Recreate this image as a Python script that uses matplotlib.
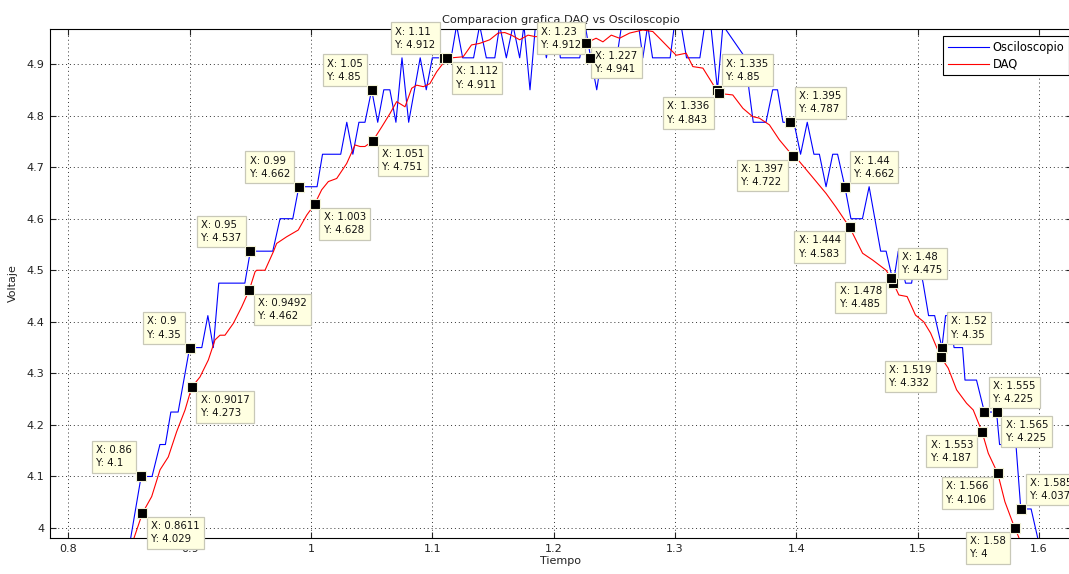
import numpy as np
import matplotlib.pyplot as plt

# Osciloscopio (blue) - quantized samples
t_osc = [0.845, 0.851, 0.86, 0.869, 0.8755, 0.880, 0.8845, 0.8905, 0.900, 0.910,
         0.915, 0.9195, 0.924, 0.9455, 0.950, 0.9685, 0.9745, 0.985, 0.990, 1.005,
         1.0095, 1.0245, 1.0295, 1.0345, 1.0395, 1.0445, 1.050, 1.055, 1.060, 1.065,
         1.070, 1.075, 1.0805, 1.090, 1.095, 1.100, 1.110, 1.1155, 1.120, 1.125,
         1.134, 1.139, 1.1445, 1.1515, 1.1555, 1.161, 1.1665, 1.172, 1.1755, 1.1805,
         1.185, 1.1895, 1.194, 1.1985, 1.203, 1.2055, 1.2215, 1.226, 1.2305, 1.2355,
         1.2395, 1.252, 1.256, 1.270, 1.2735, 1.2775, 1.2815, 1.296, 1.2995, 1.305,
         1.3095, 1.3205, 1.3245, 1.3295, 1.335, 1.3395, 1.358, 1.361, 1.3645, 1.375,
         1.3805, 1.3845, 1.389, 1.395, 1.398, 1.4035, 1.409, 1.4145, 1.419, 1.4245,
         1.430, 1.434, 1.440, 1.445, 1.4545, 1.460, 1.4695, 1.474, 1.480, 1.484,
         1.490, 1.495, 1.499, 1.5045, 1.509, 1.514, 1.520, 1.523, 1.526, 1.530,
         1.537, 1.539, 1.5485, 1.555, 1.565, 1.5675, 1.581, 1.585, 1.5935, 1.5995,
         1.605]
v_osc = [3.912, 3.975, 4.1, 4.1, 4.162, 4.162, 4.225, 4.225, 4.35, 4.35,
         4.412, 4.35, 4.475, 4.475, 4.537, 4.537, 4.6, 4.6, 4.662, 4.662,
         4.725, 4.725, 4.787, 4.725, 4.787, 4.787, 4.85, 4.787, 4.85, 4.85,
         4.787, 4.912, 4.787, 4.912, 4.85, 4.912, 4.912, 4.912, 4.975, 4.912,
         4.912, 4.975, 4.912, 4.912, 4.975, 4.912, 4.975, 4.912, 4.975, 4.85,
         4.975, 4.975, 4.912, 4.975, 4.975, 4.912, 4.912, 4.975, 4.912, 4.85,
         4.912, 4.912, 4.975, 4.975, 4.912, 4.975, 4.912, 4.912, 4.975, 4.975,
         4.912, 4.912, 4.975, 4.975, 4.85, 4.975, 4.912, 4.85, 4.787, 4.787,
         4.85, 4.85, 4.787, 4.787, 4.787, 4.725, 4.787, 4.725, 4.725, 4.662,
         4.725, 4.725, 4.662, 4.6, 4.6, 4.662, 4.537, 4.537, 4.475, 4.537,
         4.475, 4.475, 4.537, 4.475, 4.412, 4.412, 4.35, 4.412, 4.412, 4.35,
         4.35, 4.287, 4.287, 4.225, 4.225, 4.162, 4.162, 4.037, 4.037, 3.975,
         3.912]

# DAQ (red)
t_daq = [0.847, 0.8536, 0.8611, 0.8687, 0.8756, 0.8824, 0.8893, 0.8962, 0.9017, 0.9085,
         0.9154, 0.9209, 0.925, 0.9291, 0.936, 0.9429, 0.9492, 0.9539, 0.9552, 0.9621,
         0.969, 0.9717, 0.98, 0.9895, 0.9965, 1.003, 1.0088, 1.0143, 1.0212, 1.0294,
         1.0363, 1.0404, 1.0445, 1.051, 1.0583, 1.0651, 1.0706, 1.0775, 1.083, 1.0871,
         1.0926, 1.098, 1.1036, 1.112, 1.1158, 1.1254, 1.1323, 1.139, 1.1473, 1.1542,
         1.1597, 1.1652, 1.172, 1.1789, 1.185, 1.195, 1.205, 1.215, 1.222, 1.227,
         1.235, 1.2406, 1.2475, 1.2543, 1.2626, 1.2735, 1.2817, 1.2872, 1.2955, 1.301,
         1.3092, 1.3147, 1.323, 1.336, 1.3476, 1.356, 1.364, 1.3695, 1.3778, 1.386,
         1.397, 1.4025, 1.4132, 1.4245, 1.4325, 1.444, 1.4546, 1.4628, 1.474, 1.478,
         1.4845, 1.4913, 1.4982, 1.505, 1.5107, 1.519, 1.5252, 1.5321, 1.5403, 1.5458,
         1.553, 1.5582, 1.566, 1.5719, 1.58, 1.583, 1.59]
v_daq = [3.94, 3.977, 4.029, 4.061, 4.113, 4.138, 4.187, 4.229, 4.273, 4.293,
         4.326, 4.365, 4.374, 4.374, 4.397, 4.429, 4.462, 4.497, 4.5, 4.5,
         4.536, 4.552, 4.565, 4.578, 4.607, 4.628, 4.656, 4.672, 4.678, 4.707,
         4.743, 4.74, 4.74, 4.751, 4.778, 4.804, 4.827, 4.817, 4.853, 4.859,
         4.856, 4.862, 4.885, 4.911, 4.912, 4.914, 4.937, 4.94, 4.947, 4.96,
         4.961, 4.956, 4.947, 4.956, 4.953, 4.955, 4.95, 4.945, 4.95, 4.941,
         4.95, 4.943, 4.956, 4.95, 4.96, 4.966, 4.963, 4.95, 4.93, 4.917,
         4.921, 4.895, 4.892, 4.843, 4.84, 4.814, 4.798, 4.795, 4.782, 4.753,
         4.722, 4.711, 4.681, 4.649, 4.623, 4.583, 4.533, 4.52, 4.5, 4.485,
         4.452, 4.449, 4.413, 4.4, 4.378, 4.332, 4.31, 4.268, 4.242, 4.229,
         4.187, 4.145, 4.106, 4.051, 4.0, 3.984, 3.94]

# data tips: x, y, where the box sits (ul / lr / ur / ll)
tip_x = [0.86, 0.8611, 0.9, 0.9017, 0.95, 0.9492, 0.99, 1.003, 1.05, 1.051,
         1.11, 1.112, 1.23, 1.227, 1.335, 1.336, 1.395, 1.397, 1.44, 1.444,
         1.48, 1.478, 1.52, 1.519, 1.555, 1.565, 1.553, 1.566, 1.585, 1.58]
tip_y = [4.1, 4.029, 4.35, 4.273, 4.537, 4.462, 4.662, 4.628, 4.85, 4.751,
         4.912, 4.911, 4.912, 4.941, 4.85, 4.843, 4.787, 4.722, 4.662, 4.583,
         4.475, 4.485, 4.35, 4.332, 4.225, 4.225, 4.187, 4.106, 4.037, 4.0]
tip_pos = ['ul', 'lr', 'ul', 'lr', 'ul', 'lr', 'ul', 'lr', 'ul', 'lr',
           'ul', 'lr', 'ul', 'lr', 'ur', 'll', 'ur', 'll', 'ur', 'll',
           'ur', 'll', 'ur', 'll', 'ur', 'lr', 'll', 'll', 'ur', 'll']

W, H = 1069, 574
fig = plt.figure(figsize=(W / 100, H / 100), dpi=100)
ax = fig.add_axes([50 / W, (H - 538) / H, (1072 - 50) / W, (538 - 29) / H])

ax.plot(t_osc, v_osc, color='#0000ff', lw=0.8, label='Osciloscopio')
ax.plot(t_daq, v_daq, color='#ff0000', lw=0.8, label='DAQ')

ax.set_xlim(0.7849, 1.6272)
ax.set_ylim(3.9807, 4.9679)
ax.set_xticks(np.arange(0.8, 1.61, 0.1))
ax.set_xticklabels(['0.8', '0.9', '1', '1.1', '1.2', '1.3', '1.4', '1.5', '1.6'])
ax.set_yticks(np.arange(4.0, 4.91, 0.1))
ax.set_yticklabels(['4', '4.1', '4.2', '4.3', '4.4', '4.5', '4.6', '4.7', '4.8', '4.9'])
ax.tick_params(direction='in', length=4, width=0.8, top=True, right=True,
               labelsize=8, pad=4, colors='#222222')
ax.grid(True, color='#333333', linestyle=(0, (1, 3)), lw=0.7)
for s in ax.spines.values():
    s.set_linewidth(0.8)

ax.set_title('Comparacion grafica DAQ vs Osciloscopio', fontsize=8.2, pad=4, color='#222222')
ax.set_xlabel('Tiempo', fontsize=8, labelpad=2, color='#222222')
ax.set_ylabel('Voltaje', fontsize=8, labelpad=6, color='#222222')

leg = ax.legend(loc='upper right', bbox_to_anchor=(1069 / W, 1 - 36 / H),
                bbox_transform=fig.transFigure, borderaxespad=0, fancybox=False,
                edgecolor='black', fontsize=8.3, handlelength=3.6, handletextpad=0.3,
                borderpad=0.4, labelspacing=0.35, framealpha=1, handleheight=0.7)
leg.get_frame().set_linewidth(0.8)

# data tips
gx, gy = 9, 8
offs = {'ul': (-gx, gy, 'right', 'bottom'), 'lr': (gx, -gy, 'left', 'top'),
        'ur': (gx, gy, 'left', 'bottom'), 'll': (-gx, -gy, 'right', 'top')}
for x, y, p in zip(tip_x, tip_y, tip_pos):
    dx, dy, ha, va = offs[p]
    ax.annotate('X: %.4g\nY: %.4g' % (x, y), xy=(x, y), xytext=(dx, dy),
                textcoords='offset pixels', ha=ha, va=va, multialignment='left',
                fontsize=7.3, linespacing=1.4, color='#111111', annotation_clip=False,
                zorder=5,
                bbox=dict(boxstyle='square,pad=0.42', fc='#ffffe1', ec='#c8c8b8', lw=0.9))
    ax.plot(x, y, 's', ms=7, mfc='black', mec='#f4f4d8', mew=0.8, zorder=6, clip_on=False)

fig.savefig('out.png', dpi=100)
